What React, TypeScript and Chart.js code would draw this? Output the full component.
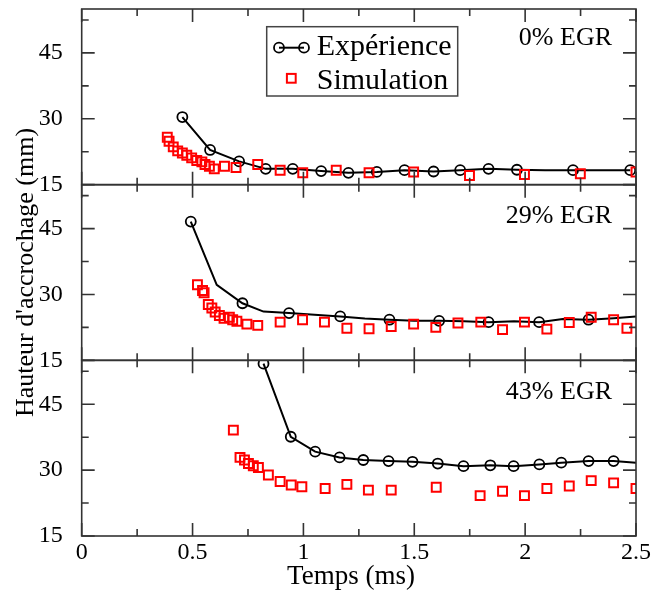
import React, { useEffect, useRef } from 'react';
import { Chart, registerables } from 'chart.js';
Chart.register(...registerables);

const FONT = "'Liberation Serif', 'Times New Roman', Times, serif";

// ---- text ----
const panelLabels = ['0% EGR', '29% EGR', '43% EGR'];
const seriesLabels = ['Expérience', 'Simulation'];
const xTitle = 'Temps (ms)';
const yTitle = "Hauteur d'accrochage (mm)";

// ---- axes ----
const xMin = 0;
const xMax = 2.5;
const yMin = 15;
const yMax = 55;
const xMajorTicks = [0, 0.5, 1, 1.5, 2, 2.5];
const xMinorTicks = [0.25, 0.75, 1.25, 1.75, 2.25];
const yMajorTicks = [15, 30, 45];
const yMinorTicks = [22.5, 37.5, 52.5];

// ---- 0% EGR ----
const exp0X = [0.454, 0.579, 0.71, 0.83, 0.952, 1.08, 1.203, 1.331, 1.456, 1.587, 1.707, 1.835, 1.963, 2.09, 2.216, 2.345, 2.474];
const exp0Y = [30.4, 22.9, 20.3, 18.6, 18.6, 18.1, 17.7, 17.9, 18.3, 18.0, 18.3, 18.6, 18.4, 18.3, 18.3, 18.3, 18.3];
const exp0Mark = [1, 1, 1, 1, 1, 1, 1, 1, 1, 1, 1, 1, 1, 0, 1, 0, 1];
const sim0X = [0.386, 0.394, 0.413, 0.433, 0.454, 0.474, 0.496, 0.519, 0.542, 0.556, 0.576, 0.598, 0.644, 0.696, 0.794, 0.895, 0.997, 1.148, 1.296, 1.497, 1.749, 1.997, 2.249, 2.5];
const sim0Y = [25.8, 24.9, 23.6, 22.7, 22.2, 21.7, 21.1, 20.5, 20.2, 19.6, 19.2, 18.6, 19.2, 18.9, 19.6, 18.3, 17.7, 18.3, 17.7, 17.9, 17.1, 17.3, 17.5, 17.9];

// ---- 29% EGR ----
const exp29X = [0.492, 0.609, 0.725, 0.82, 0.935, 1.05, 1.166, 1.277, 1.388, 1.5, 1.612, 1.724, 1.835, 1.95, 2.063, 2.17, 2.286, 2.4, 2.5];
const exp29Y = [46.6, 32.2, 28.0, 26.1, 25.75, 25.4, 25.0, 24.5, 24.25, 24.0, 24.0, 23.9, 23.7, 23.9, 23.7, 24.4, 24.25, 24.6, 25.0];
const exp29Mark = [1, 0, 1, 0, 1, 0, 1, 0, 1, 0, 1, 0, 1, 0, 1, 0, 1, 0, 0];
const sim29X = [0.522, 0.545, 0.552, 0.571, 0.587, 0.602, 0.621, 0.642, 0.666, 0.681, 0.7, 0.745, 0.794, 0.895, 0.996, 1.095, 1.196, 1.296, 1.396, 1.497, 1.597, 1.697, 1.8, 1.898, 1.997, 2.098, 2.199, 2.298, 2.399, 2.459];
const sim29Y = [32.2, 30.9, 30.4, 27.7, 26.9, 26.0, 25.2, 24.6, 24.8, 24.25, 23.9, 23.25, 22.95, 23.7, 24.25, 23.7, 22.3, 22.2, 22.7, 23.25, 22.5, 23.5, 23.7, 22.0, 23.7, 22.1, 23.6, 24.8, 24.25, 22.3];

// ---- 43% EGR ----
const exp43X = [0.82, 0.943, 1.053, 1.163, 1.27, 1.384, 1.492, 1.606, 1.722, 1.843, 1.948, 2.064, 2.163, 2.286, 2.399, 2.5];
const exp43Y = [54.25, 37.6, 34.2, 32.9, 32.3, 32.05, 31.9, 31.5, 30.9, 31.1, 30.9, 31.3, 31.7, 32.05, 32.05, 31.7];
const exp43Mark = [1, 1, 1, 1, 1, 1, 1, 1, 1, 1, 1, 1, 1, 1, 1, 0];
const sim43X = [0.684, 0.714, 0.734, 0.752, 0.774, 0.797, 0.842, 0.895, 0.945, 0.993, 1.098, 1.196, 1.293, 1.396, 1.599, 1.797, 1.898, 1.997, 2.098, 2.199, 2.298, 2.399, 2.5];
const sim43Y = [39.1, 32.9, 32.3, 31.5, 31.0, 30.6, 28.9, 27.4, 26.6, 26.2, 25.8, 26.75, 25.45, 25.45, 26.1, 24.2, 25.2, 24.2, 25.8, 26.4, 27.6, 27.1, 25.8];

const panels = [
  { id: 'y0', label: panelLabels[0], expX: exp0X, expY: exp0Y, expMark: exp0Mark, simX: sim0X, simY: sim0Y, labelDy: 36 },
  { id: 'y1', label: panelLabels[1], expX: exp29X, expY: exp29Y, expMark: exp29Mark, simX: sim29X, simY: sim29Y, labelDy: 38 },
  { id: 'y2', label: panelLabels[2], expX: exp43X, expY: exp43Y, expMark: exp43Mark, simX: sim43X, simY: sim43Y, labelDy: 38.7 },
];

const CANVAS_W = 655;
const CANVAS_H = 597;
const Y_AXIS_W = 73.7;
const X_AXIS_H = 61;
const FRAME = '#333';
const RED = '#ff0000';
const CIRCLE_R = 5;
const CIRCLE_W = 1.8;

const framePlugin = {
  id: 'panelFrame',
  afterDraw(chart: any) {
    const { ctx, chartArea } = chart;
    const xs = chart.scales.x;
    const left = chartArea.left;
    const right = chartArea.right;
    ctx.save();
    panels.forEach((p) => {
      const ys = chart.scales[p.id];
      const top = ys.top;
      const bottom = ys.bottom;
      ctx.strokeStyle = FRAME;
      ctx.lineWidth = 1.6;
      ctx.strokeRect(left, top, right - left, bottom - top);
      ctx.beginPath();
      const xt = (vals: number[], len: number) => {
        vals.forEach((v) => {
          const px = xs.getPixelForValue(v);
          ctx.moveTo(px, top);
          ctx.lineTo(px, top + len);
          ctx.moveTo(px, bottom);
          ctx.lineTo(px, bottom - len);
        });
      };
      const yt = (vals: number[], len: number) => {
        vals.forEach((v) => {
          const py = ys.getPixelForValue(v);
          ctx.moveTo(left, py);
          ctx.lineTo(left + len, py);
          ctx.moveTo(right, py);
          ctx.lineTo(right - len, py);
        });
      };
      xt(xMajorTicks, 13);
      xt(xMinorTicks, 7);
      yt(yMajorTicks, 13);
      yt(yMinorTicks, 7);
      ctx.stroke();
      ctx.fillStyle = '#000';
      ctx.font = `26px ${FONT}`;
      ctx.textAlign = 'right';
      ctx.textBaseline = 'alphabetic';
      ctx.fillText(p.label, right - 24, top + p.labelDy);
    });

    // x axis title
    ctx.fillStyle = '#000';
    ctx.font = `27px ${FONT}`;
    ctx.textAlign = 'center';
    ctx.textBaseline = 'alphabetic';
    ctx.fillText(xTitle, 351, 584);

    // legend
    const bx = 266.7, by = 26.7, bw = 191, bh = 69.3;
    ctx.fillStyle = '#fff';
    ctx.fillRect(bx, by, bw, bh);
    ctx.strokeStyle = '#444';
    ctx.lineWidth = 1.5;
    ctx.strokeRect(bx, by, bw, bh);
    const r1 = 47.7;
    ctx.strokeStyle = '#000';
    ctx.lineWidth = 2;
    ctx.beginPath();
    ctx.moveTo(279, r1);
    ctx.lineTo(304, r1);
    ctx.stroke();
    ctx.lineWidth = CIRCLE_W;
    [279, 304].forEach((cx) => {
      ctx.beginPath();
      ctx.arc(cx, r1, CIRCLE_R, 0, Math.PI * 2);
      ctx.stroke();
    });
    const r2 = 78.3;
    ctx.strokeStyle = RED;
    ctx.lineWidth = 2;
    ctx.strokeRect(291.3 - 4.4, r2 - 4.4, 8.8, 8.8);
    ctx.fillStyle = '#000';
    ctx.font = `30px ${FONT}`;
    ctx.textAlign = 'left';
    ctx.fillText(seriesLabels[0], 316.7, 55);
    ctx.fillText(seriesLabels[1], 316.7, 89);
    ctx.restore();
  },
};

export default function App() {
  const ref = useRef<HTMLCanvasElement>(null);
  useEffect(() => {
    if (!ref.current) return;
    const datasets: any[] = [];
    panels.forEach((p) => {
      datasets.push({
        label: seriesLabels[0],
        data: p.expX.map((x, k) => ({ x, y: p.expY[k] })),
        xAxisID: 'x',
        yAxisID: p.id,
        showLine: true,
        borderColor: '#000',
        borderWidth: 2,
        backgroundColor: 'rgba(0,0,0,0)',
        pointStyle: 'circle',
        pointBorderColor: '#000',
        pointBackgroundColor: 'rgba(0,0,0,0)',
        pointBorderWidth: CIRCLE_W,
        pointRadius: (c: any) => (p.expMark[c.dataIndex] ? CIRCLE_R : 0),
        tension: 0,
        order: 1,
      });
      datasets.push({
        label: seriesLabels[1],
        data: p.simX.map((x, k) => ({ x, y: p.simY[k] })),
        xAxisID: 'x',
        yAxisID: p.id,
        showLine: false,
        pointStyle: 'rect',
        pointBorderColor: RED,
        pointBackgroundColor: 'rgba(0,0,0,0)',
        pointBorderWidth: 2,
        pointRadius: 6.3,
        order: 0,
      });
    });

    const scales: any = {
      x: {
        type: 'linear',
        position: 'bottom',
        min: xMin,
        max: xMax,
        afterBuildTicks: (s: any) => {
          s.ticks = xMajorTicks.map((value) => ({ value }));
        },
        afterFit: (s: any) => {
          s.height = X_AXIS_H;
          s.paddingLeft = 0;
          s.paddingRight = 0;
        },
        grid: { display: false, drawTicks: false },
        border: { display: false },
        ticks: {
          font: { family: FONT, size: 24 },
          color: '#000',
          padding: 2,
          maxRotation: 0,
          autoSkip: false,
          callback: (v: any) => String(v),
        },
        title: { display: false },
      },
    };
    // declared bottom-to-top so the stack places panel 0 on top
    [2, 1, 0].forEach((i) => {
      const p = panels[i];
      scales[p.id] = {
        type: 'linear',
        position: 'left',
        stack: 'panels',
        stackWeight: 1,
        min: yMin,
        max: yMax,
        afterBuildTicks: (s: any) => {
          s.ticks = yMajorTicks.map((value) => ({ value }));
        },
        afterFit: (s: any) => {
          s.width = Y_AXIS_W;
          s.paddingTop = 0;
          s.paddingBottom = 0;
        },
        grid: { display: false, drawTicks: false },
        border: { display: false },
        ticks: {
          font: { family: FONT, size: 24 },
          color: '#000',
          padding: 19,
          autoSkip: false,
        },
        title: {
          display: i === 1,
          text: yTitle,
          color: '#000',
          font: { family: FONT, size: 26, lineHeight: 1 },
          padding: { top: 5, bottom: 0 },
        },
      };
    });

    const chart = new Chart(ref.current, {
      type: 'scatter',
      data: { datasets },
      options: {
        responsive: false,
        animation: false,
        events: [],
        layout: { padding: { top: 9, right: 19, left: 8, bottom: 0 } },
        plugins: {
          legend: { display: false },
          tooltip: { enabled: false },
          title: { display: false },
        },
        scales,
      } as any,
      plugins: [framePlugin],
    });
    return () => chart.destroy();
  }, []);

  return (
    <div style={{ position: 'absolute', left: 0, top: 0, width: CANVAS_W, height: CANVAS_H, overflow: 'hidden' }}>
      <canvas ref={ref} width={CANVAS_W} height={CANVAS_H} style={{ display: 'block' }} />
    </div>
  );
}
